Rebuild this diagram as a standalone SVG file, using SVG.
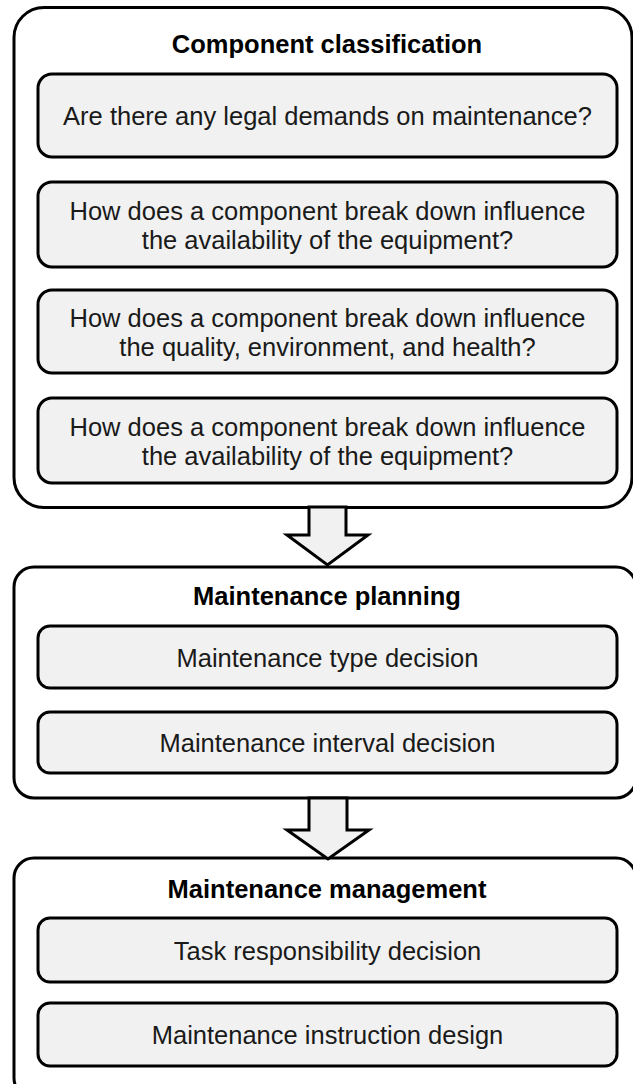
<svg xmlns="http://www.w3.org/2000/svg" width="633" height="1084" viewBox="0 0 633 1084">
<style>
.outer{fill:#fff;stroke:#000;stroke-width:3}
.inner{fill:#f1f1f1;stroke:#000;stroke-width:3}
.arrow{fill:#f1f1f1;stroke:#000;stroke-width:3;stroke-linejoin:miter}
.title{font-family:"Liberation Sans",Arial,sans-serif;font-size:25.5px;font-weight:bold;fill:#000;text-anchor:middle}
.txt{font-family:"Liberation Sans",Arial,sans-serif;font-size:25.5px;fill:#1a1a1a;text-anchor:middle}
</style>
<rect width="633" height="1084" fill="#fff"/>
<g id="component-classification">
<rect class="outer" x="14" y="7.5" width="618" height="500" rx="30"/>
<text class="title" x="327" y="53">Component classification</text>
</g>
<g id="legal-demands">
<rect class="inner" x="38" y="74" width="579" height="83" rx="14"/>
<text class="txt" x="327.5" y="125">Are there any legal demands on maintenance?</text>
</g>
<g id="availability-1">
<rect class="inner" x="38" y="182" width="579" height="85" rx="14"/>
<text class="txt" x="327.5" y="220">How does a component break down influence</text>
<text class="txt" x="327.5" y="249">the availability of the equipment?</text>
</g>
<g id="quality">
<rect class="inner" x="38" y="290" width="579" height="83" rx="14"/>
<text class="txt" x="327.5" y="327">How does a component break down influence</text>
<text class="txt" x="327.5" y="356">the quality, environment, and health?</text>
</g>
<g id="availability-2">
<rect class="inner" x="38" y="398" width="579" height="85" rx="14"/>
<text class="txt" x="327.5" y="436">How does a component break down influence</text>
<text class="txt" x="327.5" y="465">the availability of the equipment?</text>
</g>
<g id="maintenance-planning">
<rect class="outer" x="14" y="567" width="622" height="231" rx="20"/>
<text class="title" x="327" y="605">Maintenance planning</text>
</g>
<g id="type-decision">
<rect class="inner" x="38" y="626" width="579" height="62" rx="12"/>
<text class="txt" x="327.5" y="667">Maintenance type decision</text>
</g>
<g id="interval-decision">
<rect class="inner" x="38" y="712" width="579" height="61" rx="12"/>
<text class="txt" x="327.5" y="752">Maintenance interval decision</text>
</g>
<g id="maintenance-management">
<rect class="outer" x="14" y="858" width="622" height="240" rx="20"/>
<text class="title" x="327" y="898">Maintenance management</text>
</g>
<g id="task-responsibility">
<rect class="inner" x="38" y="918" width="579" height="64" rx="12"/>
<text class="txt" x="327.5" y="960">Task responsibility decision</text>
</g>
<g id="instruction-design">
<rect class="inner" x="38" y="1003" width="579" height="63" rx="12"/>
<text class="txt" x="327.5" y="1044">Maintenance instruction design</text>
</g>
<g id="connectors">
<polygon class="arrow" points="309,507 346,507 346,535 368,535 327.5,565 287,535 309,535"/>
<polygon class="arrow" points="309,798 347,798 347,830 369,830 328,859 287,830 309,830"/>
</g>
</svg>
